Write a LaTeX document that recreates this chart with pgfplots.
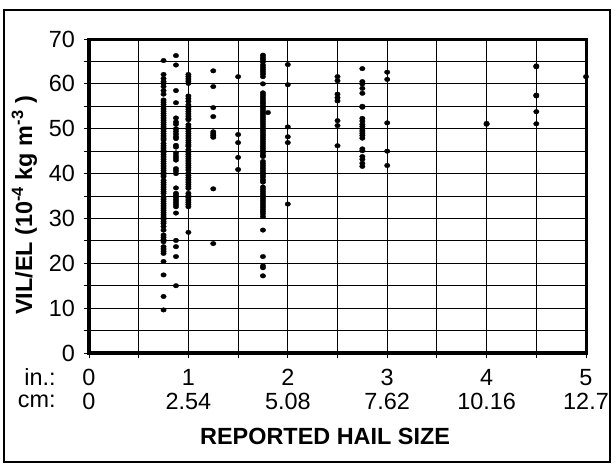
\documentclass[border=0pt]{standalone}
\usepackage{fontspec}
\setmainfont{Liberation Sans}
\usepackage{pgfplots}
\usepackage{pgfplotstable}
\pgfplotsset{compat=1.18}
\newcommand{\tl}[2]{\begin{tabular}{@{}c@{}}#1\\#2\end{tabular}}
\pgfplotstableread{
x y
0.75 65.2
0.75 62.1
0.75 61.2
0.75 60.5
0.75 60.1
0.75 59.4
0.75 58.5
0.75 57.7
0.75 56.4
0.75 55.9
0.75 55.4
0.75 54.9
0.75 54.4
0.75 53.9
0.75 53.4
0.75 52.9
0.75 52.4
0.75 51.9
0.75 51.4
0.75 50.9
0.75 50.4
0.75 49.9
0.75 49.4
0.75 48.9
0.75 48.4
0.75 47.9
0.75 47.5
0.75 46.7
0.75 46.2
0.75 45.7
0.75 45.2
0.75 44.7
0.75 44.2
0.75 43.7
0.75 43.2
0.75 42.7
0.75 42.2
0.75 41.7
0.75 41.2
0.75 40.7
0.75 40.2
0.75 39.7
0.75 39.3
0.75 38.5
0.75 38.0
0.75 37.5
0.75 37.0
0.75 36.5
0.75 36.0
0.75 35.6
0.75 34.8
0.75 34.3
0.75 33.8
0.75 33.3
0.75 32.8
0.75 32.3
0.75 31.8
0.75 31.3
0.75 30.8
0.75 30.3
0.75 29.8
0.75 29.3
0.75 28.9
0.75 28.2
0.75 27.4
0.75 26.3
0.75 25.8
0.75 25.3
0.75 24.8
0.75 23.7
0.75 23.2
0.75 22.7
0.75 22.2
0.75 20.4
0.75 17.4
0.75 12.6
0.75 9.6
0.875 66.3
0.875 64.2
0.875 58.5
0.875 55.8
0.875 52.4
0.875 51.5
0.875 51.0
0.875 50.0
0.875 49.4
0.875 48.8
0.875 48.2
0.875 47.8
0.875 46.3
0.875 45.9
0.875 44.6
0.875 44.0
0.875 43.5
0.875 43.0
0.875 41.1
0.875 40.6
0.875 40.0
0.875 36.8
0.875 35.6
0.875 35.1
0.875 34.6
0.875 34.1
0.875 33.6
0.875 33.1
0.875 32.6
0.875 31.2
0.875 25.1
0.875 23.7
0.875 21.5
0.875 15.0
1 62.1
1 61.6
1 61.1
1 60.6
1 60.1
1 57.3
1 56.7
1 56.1
1 55.3
1 54.8
1 54.3
1 53.8
1 53.3
1 52.8
1 52.3
1 52.0
1 50.9
1 50.4
1 49.9
1 49.4
1 48.9
1 48.4
1 47.9
1 47.4
1 46.9
1 46.4
1 46.1
1 45.3
1 44.8
1 44.3
1 43.8
1 43.3
1 42.8
1 42.3
1 41.8
1 41.3
1 40.8
1 40.1
1 39.6
1 39.1
1 38.6
1 38.1
1 37.6
1 37.1
1 36.7
1 35.6
1 35.1
1 34.6
1 34.1
1 33.6
1 33.1
1 32.6
1 26.9
1.25 62.9
1.25 59.4
1.25 54.7
1.25 52.7
1.25 49.3
1.25 48.9
1.25 48.5
1.25 48.1
1.25 36.6
1.25 24.4
1.5 61.6
1.5 48.7
1.5 46.9
1.5 43.6
1.5 40.9
1.75 66.4
1.75 65.9
1.75 65.4
1.75 64.9
1.75 64.2
1.75 63.7
1.75 63.2
1.75 62.7
1.75 62.2
1.75 61.6
1.75 60.0
1.75 58.0
1.75 57.5
1.75 57.0
1.75 56.5
1.75 56.0
1.75 55.6
1.75 55.1
1.75 54.6
1.75 54.1
1.75 53.6
1.75 53.1
1.75 52.6
1.75 52.1
1.75 51.6
1.75 51.1
1.75 50.6
1.75 50.1
1.75 49.6
1.75 49.1
1.75 48.6
1.75 48.1
1.75 47.6
1.75 47.1
1.75 46.6
1.75 46.1
1.75 45.6
1.75 45.1
1.75 44.6
1.75 44.1
1.75 43.8
1.75 42.7
1.75 42.2
1.75 41.7
1.75 41.2
1.75 40.7
1.75 40.2
1.75 39.7
1.75 39.2
1.75 38.6
1.75 38.1
1.75 37.0
1.75 36.5
1.75 36.0
1.75 35.5
1.75 35.0
1.75 34.5
1.75 34.0
1.75 33.5
1.75 33.0
1.75 32.5
1.75 32.0
1.75 31.5
1.75 31.0
1.75 30.4
1.75 27.4
1.75 21.5
1.75 19.4
1.75 19.0
1.75 17.2
1.8 53.6
2 64.3
2 59.8
2 50.4
2 48.2
2 46.9
2 33.2
2.5 61.6
2.5 60.7
2.5 57.7
2.5 56.9
2.5 56.2
2.5 51.8
2.5 50.7
2.5 46.2
2.75 63.4
2.75 60.5
2.75 60.0
2.75 59.0
2.75 57.9
2.75 55.0
2.75 54.8
2.75 52.3
2.75 51.7
2.75 51.0
2.75 50.5
2.75 50.0
2.75 49.5
2.75 49.0
2.75 48.5
2.75 47.9
2.75 45.5
2.75 45.1
2.75 43.8
2.75 43.2
2.75 42.3
2.75 41.6
3 62.6
3 61.0
3 51.3
3 45.0
3 41.8
4 51.0
4 51.2
4.5 63.8
4.5 64.0
4.5 57.3
4.5 57.5
4.5 53.8
4.5 51.1
5 61.6
}\hail
\begin{document}
\begin{tikzpicture}
\useasboundingbox (0bp,0bp) rectangle (616bp,472bp);
\draw[line width=2bp] (4bp,10bp) rectangle (610bp,462bp);
\begin{axis}[
  at={(89bp,119bp)}, anchor=south west,
  scale only axis, width=497bp, height=314bp,
  xmin=0, xmax=5, ymin=0, ymax=70,
  axis line style={line width=3bp},
  xtick={0,0.5,1,1.5,2,2.5,3,3.5,4,4.5,5},
  xticklabels={{\tl{0}{0}},{},{\tl{1}{2.54}},{},{\tl{2}{5.08}},{},{\tl{3}{7.62}},{},{\tl{4}{10.16}},{},{\tl{5}{12.7}}},
  ytick={0,5,...,70},
  yticklabels={0,,10,,20,,30,,40,,50,,60,,70},
  grid=major,
  major grid style={black, line width=0.9bp},
  tick pos=left, tick align=outside,
  major tick length=5bp,
  every tick/.style={black, line width=0.9bp},
  xticklabel style={font=\fontsize{23.5}{24.5}\selectfont, inner sep=0bp, yshift=-10bp},
  yticklabel style={font=\fontsize{23.5}{25}\selectfont, anchor=east, inner ysep=2bp, inner xsep=9bp},
  every axis y label/.style={at={(axis description cs:-0.13,0.47)}, rotate=90, anchor=center, font=\bfseries\fontsize{23.5}{25}\selectfont},
  ylabel={VIL/EL (10\textsuperscript{-4} kg m\textsuperscript{-3} )},
  every axis x label/.style={at={(axis description cs:0.475,-0.265)}, anchor=center, font=\bfseries\fontsize{23.5}{25}\selectfont},
  xlabel={REPORTED HAIL SIZE},
  clip=false,
]
\addplot[only marks, mark=*, mark size=2.3bp, mark options={xscale=1.2, fill=black, draw=black, line width=0.3bp}] table[x=x,y=y] {\hail};
\node[anchor=east, font=\fontsize{23.5}{25}\selectfont] at (axis description cs:-0.06,-0.078) {in.:};
\node[anchor=east, font=\fontsize{23.5}{25}\selectfont] at (axis description cs:-0.06,-0.155) {cm:};
\end{axis}
\end{tikzpicture}
\end{document}
